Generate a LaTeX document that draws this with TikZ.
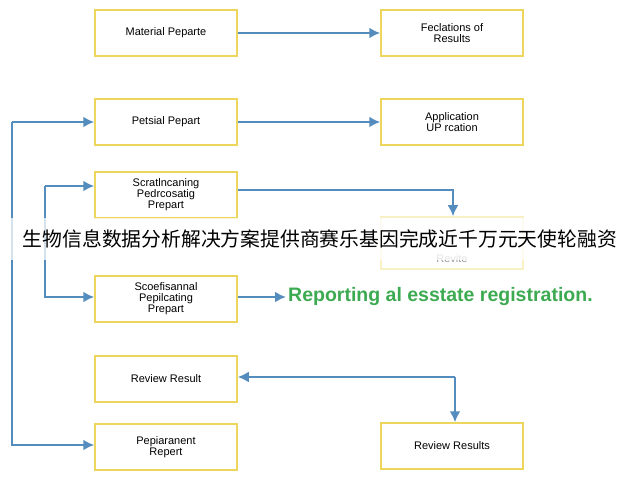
\documentclass[tikz,border=0pt]{standalone}
\usepackage{fontspec}
\setmainfont{Liberation Sans}
\newfontfamily\cjk{Noto Sans CJK SC}
\usetikzlibrary{positioning, arrows.meta}
\definecolor{boxyellow}{RGB}{238,214,92}
\definecolor{flowblue}{RGB}{84,140,190}
\definecolor{notegreen}{RGB}{60,170,80}

\begin{document}
\begin{tikzpicture}[x=1pt, y=1pt, inner sep=2pt]
		\tikzstyle{every node}=[align=center, font=\fontsize{11}{11}\selectfont]
		\tikzstyle{stage}=[draw=boxyellow, line width=1.5pt, minimum width=142pt, minimum height=46pt]
		\tikzstyle{flow}=[draw=flowblue, line width=2.2pt, -{Latex[length=11pt,width=11pt]}]
			\useasboundingbox (0, 0) rectangle (640, 480);
			\node[stage] (material) at (166, 447) {Material Peparte};
			\node[stage] (petsial) at (166, 358) {Petsial Pepart};
			\node[stage] (scratl) at (166, 285) {Scratlncaning\\Pedrcosatig\\Prepart};
			\node[stage] (scoef) at (166, 181) {Scoefisannal\\Pepilcating\\Prepart};
			\node[stage] (review) at (166, 101) {Review Result};
			\node[stage] (pepiar) at (166, 33) {Pepiaranent\\Repert};
			\node[stage] (feclat) at (452, 447) {Feclations of\\Results};
			\node[stage] (applic) at (452, 358) {Application\\UP rcation};
			\node[stage, opacity=0.35, minimum height=52pt] (revite) at (452, 237) {};
			\node[opacity=0.4, above=5pt of revite.south] (revitetext) {Revite};
			\node[stage] (results) at (452, 34) {Review Results};
			\node[font=\bfseries\fontsize{19.5}{21}\selectfont, text=notegreen, anchor=west] (note) at (286, 183) {Reporting al esstate registration.};

			\coordinate (lefttop) at (12, 358);
			\coordinate (leftbot) at (12, 35);
			\coordinate (midtop) at (45, 294);
			\coordinate (midbot) at (45, 183);
			\coordinate (turn) at (453, 290);
			\coordinate (corner) at (455, 103);

			\draw[flow] (material) -- (feclat);
			\draw[flow] (petsial) -- (applic);
			\draw[flow] (lefttop) -- (petsial.west |- lefttop);
			\draw[flow] (lefttop) -- (leftbot) -- (pepiar.west |- leftbot);
			\draw[flow] (midtop) -- (scratl.west |- midtop);
			\draw[flow] (midtop) -- (midbot) -- (scoef.west |- midbot);
			\draw[flow] (scratl.east |- turn) -- (turn) -- (revite.north -| turn);
			\draw[flow] (scoef.east |- note) -- (note.west);
			\draw[flow] (corner) -- (review.east |- corner);
			\draw[flow] (corner) -- (results.north -| corner);

			\fill[white, opacity=0.75] (0, 220) rectangle (640, 262);
			\node[font=\cjk\fontsize{19.8}{22}\selectfont, inner sep=0pt] (banner) at (320, 241) {生物信息数据分析解决方案提供商赛乐基因完成近千万元天使轮融资};
		\end{tikzpicture}
\end{document}
